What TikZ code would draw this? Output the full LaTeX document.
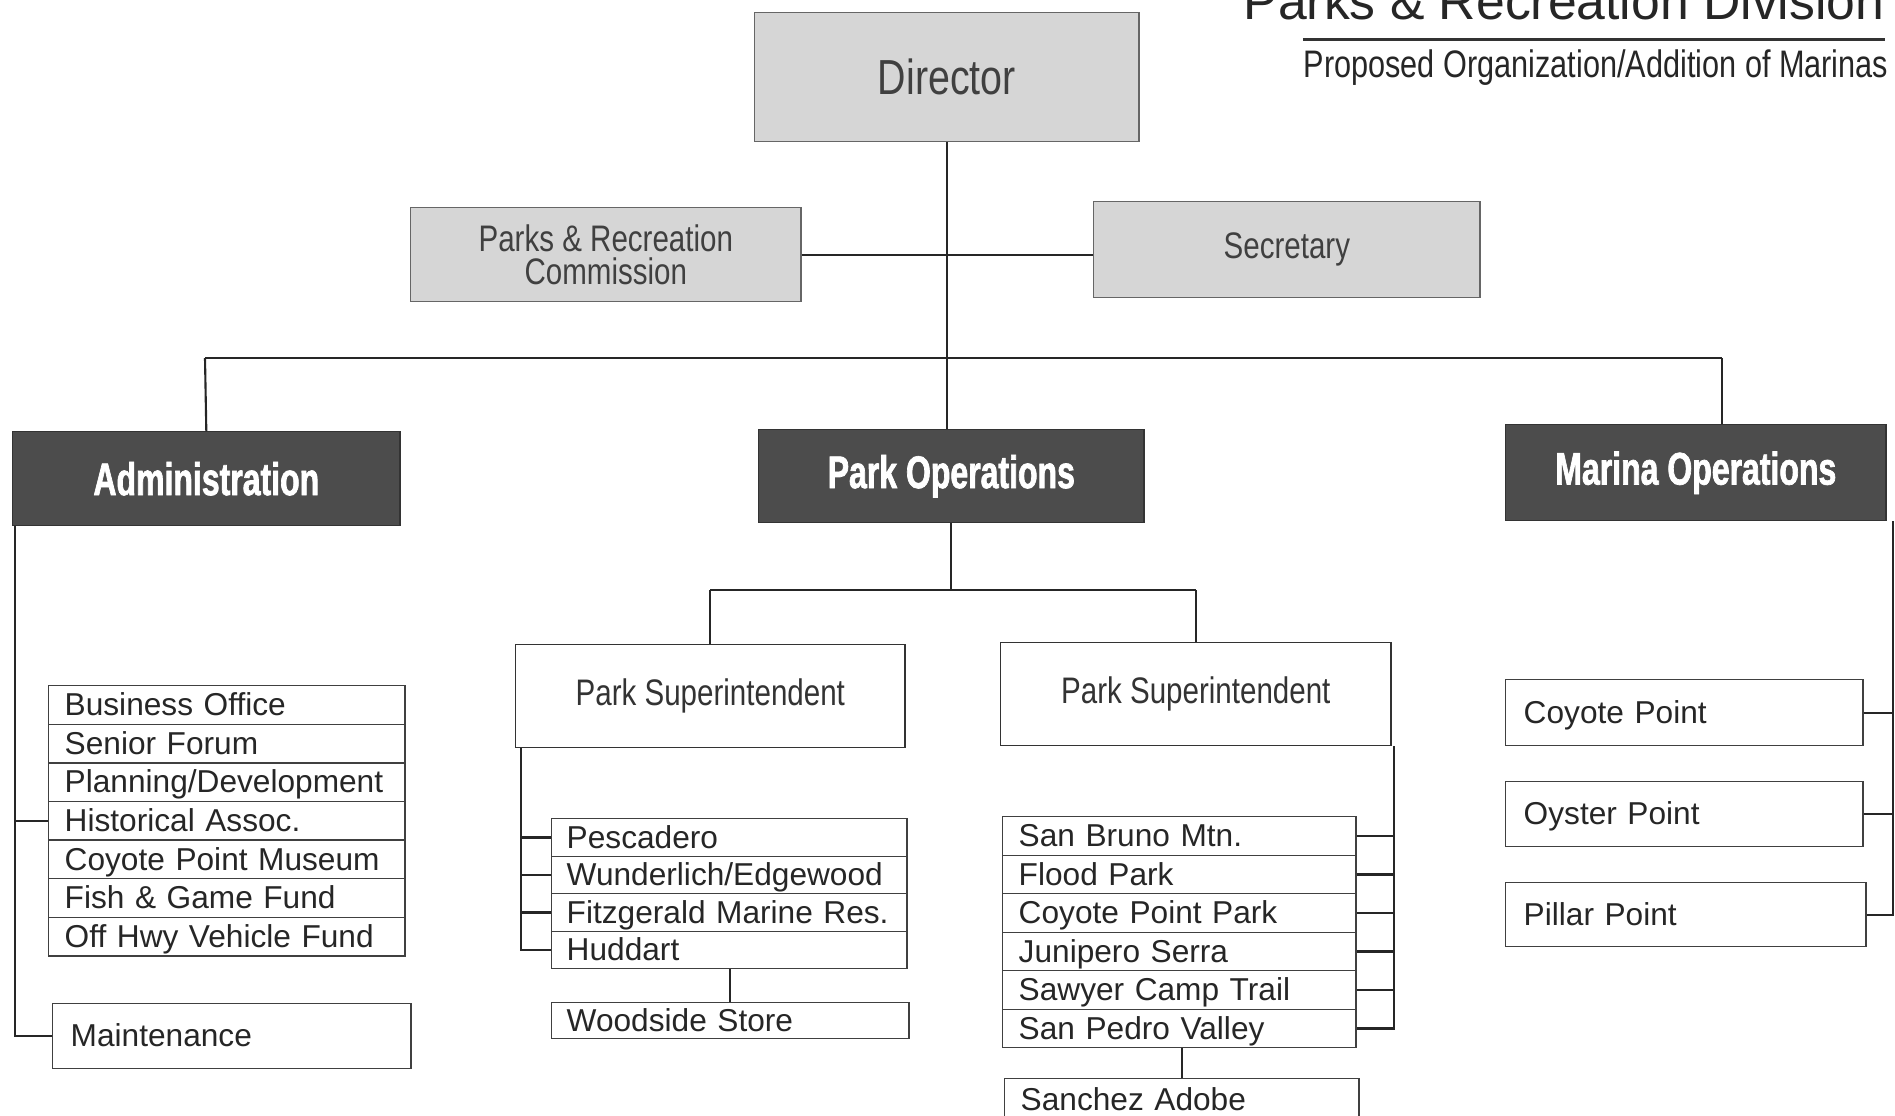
\documentclass[tikz,border=0pt]{standalone}
\usepackage{fontspec}
\setmainfont{Liberation Sans}
\newfontfamily\narrowfont[FakeStretch=0.8]{Liberation Sans}
\newfontfamily\headfont[FakeStretch=0.7,FakeBold=1.5]{Liberation Sans Bold}

\begin{document}
\begin{tikzpicture}[x=0.01cm, y=0.01cm]
\tikzstyle{every node}+=[inner sep=0pt]
\tikzstyle{greybox}=[draw=black!60, fill=black!16, text=black!75, align=center, anchor=north west, font=\narrowfont\fontsize{10.5}{9.6}\selectfont]
\tikzstyle{headbox}=[draw=black!80, fill=black!70, text=white, anchor=north west, font=\headfont\fontsize{13}{13}\selectfont]
\tikzstyle{supbox}=[draw=black!80, text=black!80, anchor=north west, font=\narrowfont\fontsize{10.5}{11}\selectfont]
\tikzstyle{rowbox}=[draw=black!75, text=black!85, anchor=north west, align=left, text width=#1, inner xsep=0.16cm, text height=7.4pt, text depth=1.3pt, font=\fontsize{9}{10}\selectfont]
\tikzstyle{link}=[black!85, line width=0.6pt]
\useasboundingbox (0,0) rectangle (1895,-1115);

% heading
\node[anchor=base east, text=black!85, font=\fontsize{14.7}{15}\selectfont] (title) at (1885,-19) {Parks \& Recreation Division};
\node[anchor=base east, text=black!85, font=\narrowfont\fontsize{10.9}{11}\selectfont] (subtitle) at (1889,-77) {Proposed Organization/Addition of Marinas};
\draw[line width=0.7pt, black!80] ([yshift=0.09cm]subtitle.north west) -- ([yshift=0.09cm,xshift=-0.04cm]subtitle.north east);

% top level
\node[greybox, minimum width=3.84cm, minimum height=1.29cm, font=\narrowfont\fontsize{14}{14}\selectfont] (dir) at (754,-12) {Director};
\node[greybox, minimum width=3.90cm, minimum height=0.94cm] (comm) at (410,-207) {Parks \& Recreation\\Commission};
\node[greybox, minimum width=3.86cm, minimum height=0.96cm] (sec) at (1093,-201) {Secretary};

\node[headbox, minimum width=3.87cm, minimum height=0.94cm] (adm) at (12,-431) {Administration};
\node[headbox, minimum width=3.85cm, minimum height=0.93cm] (parkops) at (758,-429) {Park Operations};
\node[headbox, minimum width=3.80cm, minimum height=0.96cm] (marina) at (1505,-424) {Marina Operations};

\coordinate (busL) at (205,-358);
\coordinate (busR) at (1722,-358);
\draw[link] (dir.south) -- (dir.south |- busL);
\draw[link] (comm.east) -- (comm.east -| sec.west);
\draw[link] (busL) -- (busR);
\draw[link] (busL) -- (adm.north);
\draw[link] (dir.south |- busL) -- (dir.south |- parkops.north);
\draw[link] (busR) -- (busR |- marina.north);

% administration
\node[rowbox=3.24cm, minimum height=0.386cm] (biz) at (48,-685) {Business Office};
\node[rowbox=3.24cm, minimum height=0.386cm] (senior) at (48,-723.6) {Senior Forum};
\node[rowbox=3.24cm, minimum height=0.386cm] (plan) at (48,-762.2) {Planning/Development};
\node[rowbox=3.24cm, minimum height=0.386cm] (hist) at (48,-800.8) {Historical Assoc.};
\node[rowbox=3.24cm, minimum height=0.386cm] (museum) at (48,-839.4) {Coyote Point Museum};
\node[rowbox=3.24cm, minimum height=0.386cm] (fish) at (48,-878) {Fish \& Game Fund};
\node[rowbox=3.24cm, minimum height=0.386cm] (ohv) at (48,-916.6) {Off Hwy Vehicle Fund};
\node[rowbox=3.22cm, minimum height=0.65cm, inner xsep=0.18cm] (maint) at (52,-1003) {Maintenance};
\draw[link] ([xshift=0.03cm]adm.south west) coordinate (aspine) |- (maint.west);
\draw[link] (hist.west) -- (hist.west -| aspine);

% park operations
\node[supbox, minimum width=3.89cm, minimum height=1.03cm] (supL) at (515,-644) {Park Superintendent};
\node[supbox, minimum width=3.90cm, minimum height=1.03cm] (supR) at (1000,-642) {Park Superintendent};
\coordinate (pbus) at (0,-590);
\draw[link] (parkops.south) -- (parkops.south |- pbus);
\draw[link] (supL.north |- pbus) -- (supR.north |- pbus);
\draw[link] (supL.north |- pbus) -- (supL.north);
\draw[link] (supR.north |- pbus) -- (supR.north);

\node[rowbox=3.25cm, minimum height=0.375cm, inner xsep=0.15cm] (pesc) at (551,-818) {Pescadero};
\node[rowbox=3.25cm, minimum height=0.375cm, inner xsep=0.15cm] (wund) at (551,-855.5) {Wunderlich/Edgewood};
\node[rowbox=3.25cm, minimum height=0.375cm, inner xsep=0.15cm] (fitz) at (551,-893) {Fitzgerald Marine Res.};
\node[rowbox=3.25cm, minimum height=0.375cm, inner xsep=0.15cm] (hudd) at (551,-930.5) {Huddart};
\node[rowbox=3.27cm, minimum height=0.36cm, inner xsep=0.15cm] (wood) at (551,-1002) {Woodside Store};
\draw[link] ([xshift=0.06cm]supL.south west) coordinate (lspine) |- (hudd.west);
\draw[link] (pesc.west) -- (pesc.west -| lspine);
\draw[link] (wund.west) -- (wund.west -| lspine);
\draw[link] (fitz.west) -- (fitz.west -| lspine);
\draw[link] (wood.north) -- (wood.north |- hudd.south);

\node[rowbox=3.21cm, minimum height=0.385cm, inner xsep=0.16cm] (bruno) at (1002,-816) {San Bruno Mtn.};
\node[rowbox=3.21cm, minimum height=0.385cm, inner xsep=0.16cm] (flood) at (1002,-854.5) {Flood Park};
\node[rowbox=3.21cm, minimum height=0.385cm, inner xsep=0.16cm] (cpark) at (1002,-893) {Coyote Point Park};
\node[rowbox=3.21cm, minimum height=0.385cm, inner xsep=0.16cm] (juni) at (1002,-931.5) {Junipero Serra};
\node[rowbox=3.21cm, minimum height=0.385cm, inner xsep=0.16cm] (sawyer) at (1002,-970) {Sawyer Camp Trail};
\node[rowbox=3.21cm, minimum height=0.385cm, inner xsep=0.16cm] (pedro) at (1002,-1008.5) {San Pedro Valley};
\node[rowbox=3.22cm, minimum height=0.42cm, inner xsep=0.16cm] (sanchez) at (1004,-1078) {Sanchez Adobe};
\draw[link] ([xshift=0.02cm]supR.south east) coordinate (rspine) |- (pedro.east);
\draw[link] (bruno.east) -- (bruno.east -| rspine);
\draw[link] (flood.east) -- (flood.east -| rspine);
\draw[link] (cpark.east) -- (cpark.east -| rspine);
\draw[link] (juni.east) -- (juni.east -| rspine);
\draw[link] (sawyer.east) -- (sawyer.east -| rspine);
\draw[link] (sanchez.north) -- (sanchez.north |- pedro.south);

% marina operations
\node[rowbox=3.21cm, minimum height=0.66cm, inner xsep=0.18cm] (coyote) at (1505,-679) {Coyote Point};
\node[rowbox=3.21cm, minimum height=0.65cm, inner xsep=0.18cm] (oyster) at (1505,-781) {Oyster Point};
\node[rowbox=3.24cm, minimum height=0.64cm, inner xsep=0.18cm] (pillar) at (1505,-882) {Pillar Point};
\draw[link] ([xshift=0.06cm]marina.south east) coordinate (mspine) |- (pillar.east);
\draw[link] (coyote.east) -- (coyote.east -| mspine);
\draw[link] (oyster.east) -- (oyster.east -| mspine);
\end{tikzpicture}
\end{document}
